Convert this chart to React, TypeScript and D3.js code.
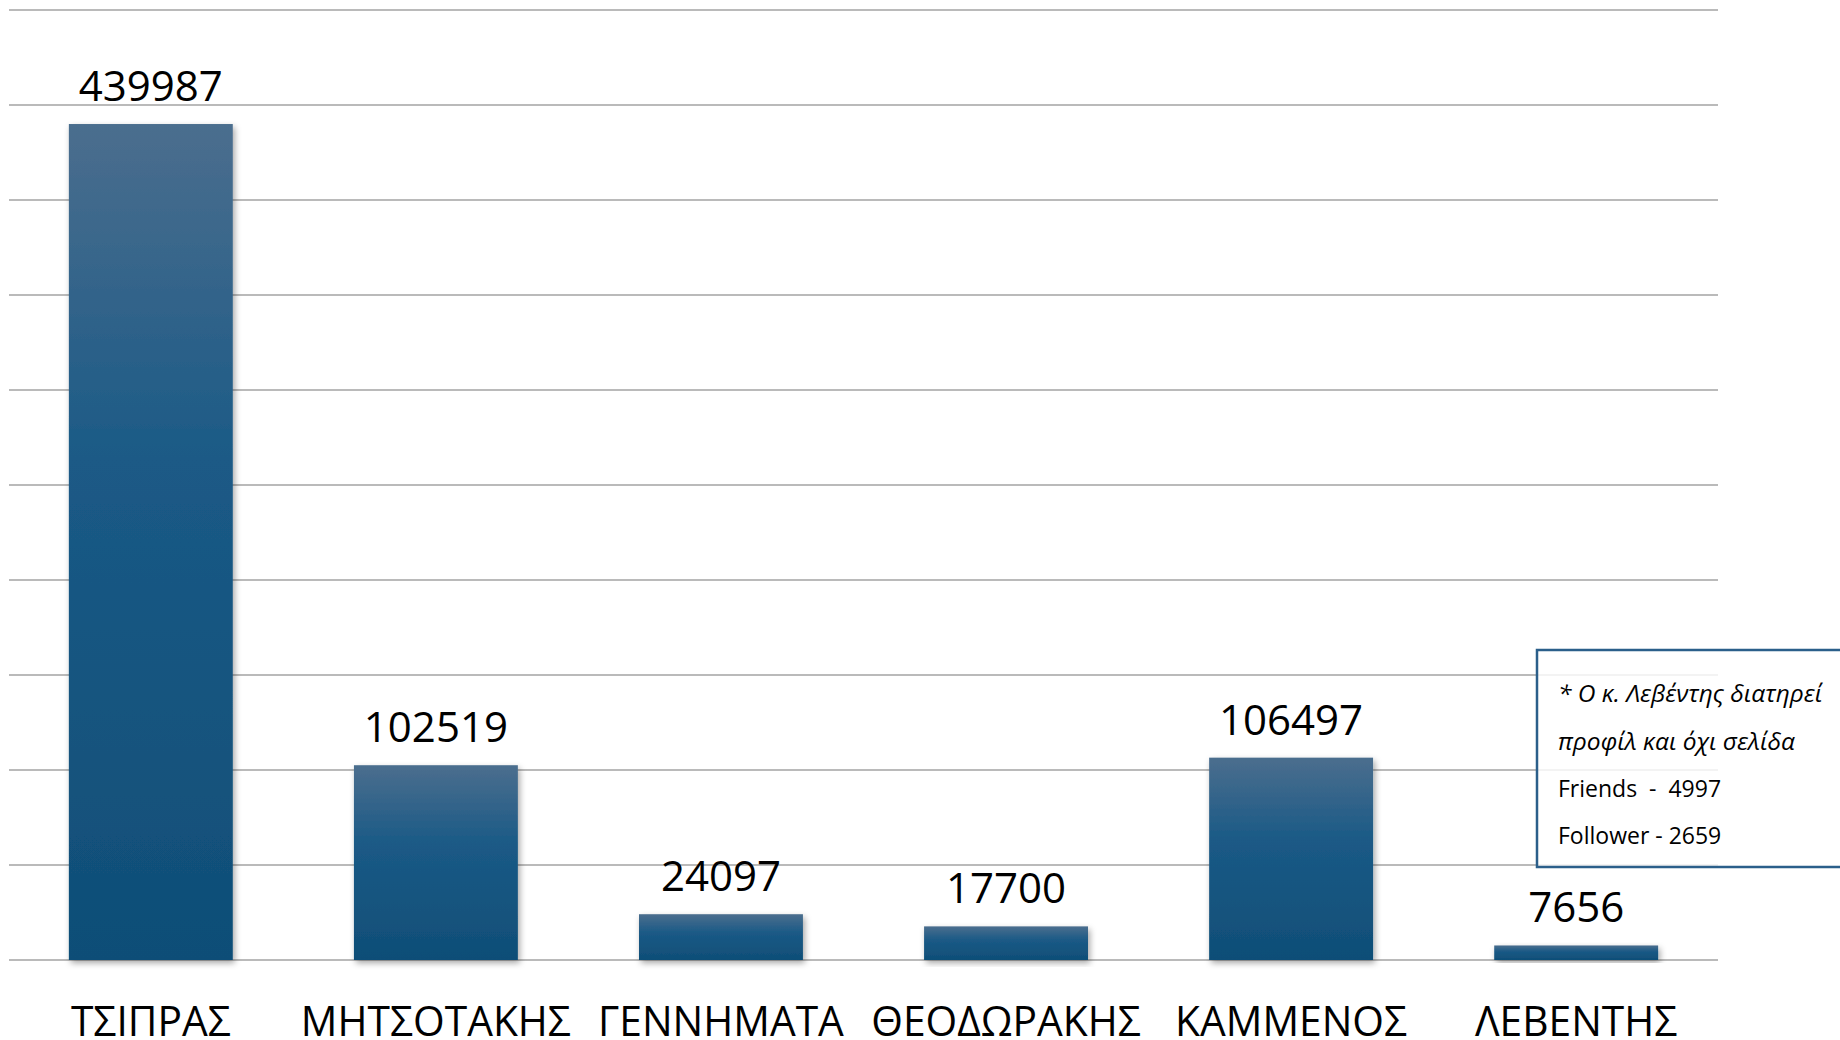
import React from "react";
import { scaleBand, scaleLinear } from "d3";

const names = ["ΤΣΙΠΡΑΣ", "ΜΗΤΣΟΤΑΚΗΣ", "ΓΕΝΝΗΜΑΤΑ", "ΘΕΟΔΩΡΑΚΗΣ", "ΚΑΜΜΕΝΟΣ", "ΛΕΒΕΝΤΗΣ"];
const likes = [439987, 102519, 24097, 17700, 106497, 7656];
const noteLines = ["* Ο κ. Λεβέντης διατηρεί", "προφίλ και όχι σελίδα"];
const noteStats = ["Friends  -  4997", "Follower - 2659"];

const W = 1840;
const H = 1040;

const App = () => {
  const dims = { left: 9, right: 1718, top: 10, bottom: 960 };

  const x = scaleBand<string>() // one band per leader
    .domain(names)
    .range([dims.left, dims.right])
    .paddingInner(0.425)
    .paddingOuter(0.21);

  const y = scaleLinear().domain([0, 500000]).range([dims.bottom, dims.top]);
  const grid = y.ticks(10);

  const font = "'Open Sans', 'Noto Sans', sans-serif";
  const mid = (n: string) => (x(n) ?? 0) + x.bandwidth() / 2;

  return (
    <div style={{ position: "fixed", left: 0, top: 0, width: W, height: H, background: "#fff" }}>
      <svg width={W} height={H} style={{ display: "block" }}>
        <defs>
          <linearGradient id="barFill" x1="0" y1="0" x2="0" y2="1">
            <stop offset="0" stopColor="#4b6e8e" />
            <stop offset="0.4" stopColor="#1b5a86" />
            <stop offset="1" stopColor="#0f4e77" />
          </linearGradient>
          <filter id="shadow" x="-20%" y="-20%" width="140%" height="140%">
            <feDropShadow dx="2" dy="3" stdDeviation="3" floodColor="#000" floodOpacity="0.35" />
          </filter>
        </defs>

        {/* gridlines */}
        {grid.map((t) => (
          <line
            key={t}
            x1={dims.left}
            x2={dims.right}
            y1={y(t)}
            y2={y(t)}
            stroke="#a3a3a3"
            strokeWidth={1.5}
          />
        ))}

        {/* bars */}
        {names.map((n, i) => (
          <rect
            key={n}
            x={x(n)}
            y={y(likes[i])}
            width={x.bandwidth()}
            height={dims.bottom - y(likes[i])}
            fill="url(#barFill)"
            filter="url(#shadow)"
          />
        ))}

        {/* value labels */}
        {names.map((n, i) => (
          <text
            key={"v" + n}
            x={mid(n)}
            y={y(likes[i]) - 23}
            textAnchor="middle"
            fontFamily={font}
            fontSize={42}
            fill="#000"
          >
            {likes[i]}
          </text>
        ))}

        {/* category labels */}
        {names.map((n) => (
          <text
            key={"c" + n}
            x={0}
            y={1036}
            textAnchor="middle"
            fontFamily={font}
            fontSize={42}
            fill="#000"
            transform={`translate(${mid(n)},0) scale(0.97,1)`}
          >
            {n}
          </text>
        ))}

        {/* note box */}
        <rect
          x={1537}
          y={650}
          width={330}
          height={217}
          fill="#fff"
          fillOpacity={0.82}
          stroke="#2b5f8a"
          strokeWidth={2.5}
        />
        {noteLines.map((t, i) => (
          <text
            key={t}
            x={1558}
            y={702 + i * 47.5}
            fontFamily={font}
            fontStyle="italic"
            fontSize={24.5}
            fill="#000"
          >
            {t}
          </text>
        ))}
        {noteStats.map((t, i) => (
          <text
            key={t}
            x={1558}
            y={797 + i * 47}
            fontFamily={font}
            fontSize={23}
            fill="#000"
            style={{ whiteSpace: "pre" }}
          >
            {t}
          </text>
        ))}
      </svg>
    </div>
  );
};

export default App;
